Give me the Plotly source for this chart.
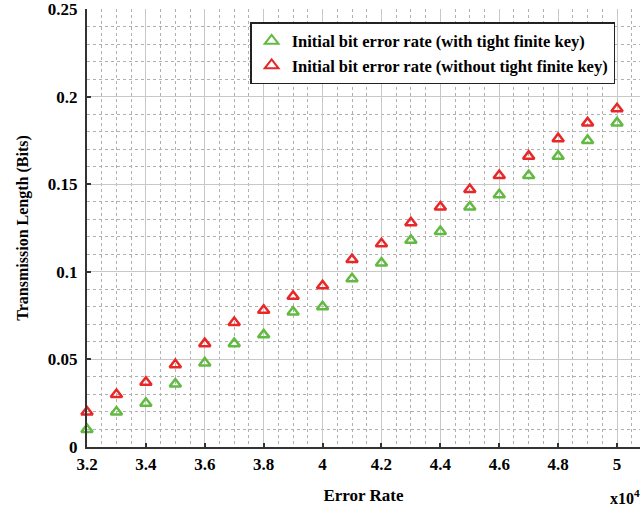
import plotly.graph_objects as go

error_rate = [3.2, 3.3, 3.4, 3.5, 3.6, 3.7, 3.8, 3.9, 4.0, 4.1,
              4.2, 4.3, 4.4, 4.5, 4.6, 4.7, 4.8, 4.9, 5.0]
with_tight = [0.010, 0.020, 0.025, 0.036, 0.048, 0.059, 0.064, 0.077, 0.080, 0.096,
              0.105, 0.118, 0.123, 0.137, 0.144, 0.155, 0.166, 0.175, 0.185]
without_tight = [0.020, 0.030, 0.037, 0.047, 0.059, 0.071, 0.078, 0.086, 0.092, 0.107,
                 0.116, 0.128, 0.137, 0.147, 0.155, 0.166, 0.176, 0.185, 0.193]
x_ticks = [3.2, 3.4, 3.6, 3.8, 4.0, 4.2, 4.4, 4.6, 4.8, 5.0]
x_tick_text = ["3.2", "3.4", "3.6", "3.8", "4", "4.2", "4.4", "4.6", "4.8", "5"]
y_ticks = [0, 0.05, 0.1, 0.15, 0.2, 0.25]
y_tick_text = ["0", "0.05", "0.1", "0.15", "0.2", "0.25"]

FONT = "Liberation Serif"
GREEN = "rgb(98,186,66)"
RED = "rgb(232,40,40)"

fig = go.Figure()
fig.add_trace(go.Scatter(
    x=error_rate, y=with_tight, mode="markers", cliponaxis=False,
    name="<b>Initial bit error rate (with tight finite key)</b>",
    marker=dict(symbol="triangle-up-open", size=10, color=GREEN, line=dict(width=2.5, color=GREEN)),
))
fig.add_trace(go.Scatter(
    x=error_rate, y=without_tight, mode="markers", cliponaxis=False,
    name="<b>Initial bit error rate (without tight finite key)</b>",
    marker=dict(symbol="triangle-up-open", size=10, color=RED, line=dict(width=2.5, color=RED)),
))

axis_common = dict(
    showline=True, linecolor="#333333", linewidth=2,
    ticks="inside", ticklen=4, tickwidth=1.5, tickcolor="#333333",
    showgrid=True, gridcolor="#c8c8c8", gridwidth=1,
    zeroline=False, ticklabeloverflow="allow",
    tickfont=dict(family=FONT, size=17, color="black", weight="bold"),
)

fig.update_xaxes(
    range=[3.2, 5.078], tickvals=x_ticks, ticktext=x_tick_text,
    minor=dict(dtick=0.05, tick0=3.2, showgrid=True, gridcolor="#b0b0b0", griddash="dot", gridwidth=1),
    title=dict(text="<b>Error Rate</b>", font=dict(family=FONT, size=17, color="black"), standoff=16),
    ticklabelstandoff=1, automargin=False,
    **axis_common,
)
fig.update_yaxes(
    range=[0, 0.25], tickvals=y_ticks, ticktext=y_tick_text,
    minor=dict(dtick=0.01, tick0=0, showgrid=True, gridcolor="#b0b0b0", griddash="dot", gridwidth=1),
    title=dict(text="<b>Transmission Length (Bits)</b>", font=dict(family=FONT, size=16, color="black"), standoff=15),
    ticklabelstandoff=4, automargin=False,
    **axis_common,
)

fig.add_annotation(
    text="<b>x10<sup>4</sup></b>", xref="paper", yref="paper",
    x=0.942, y=-0.115, xanchor="left", yanchor="middle", showarrow=False,
    font=dict(family=FONT, size=16, color="black"),
)

fig.update_layout(
    width=640, height=506,
    margin=dict(l=87, r=0, t=9, b=59),
    paper_bgcolor="white", plot_bgcolor="white",
    showlegend=True,
    legend=dict(
        x=0.295, y=0.97, xanchor="left", yanchor="top",
        bgcolor="white", bordercolor="#222222", borderwidth=1.5,
        font=dict(family=FONT, size=16.5, color="black"),
        tracegroupgap=0, itemsizing="constant",
    ),
)

fig.write_html(
    "out.html",
    config={"displayModeBar": False},
    post_script="document.body.style.margin='0';document.body.style.overflow='hidden';",
)
